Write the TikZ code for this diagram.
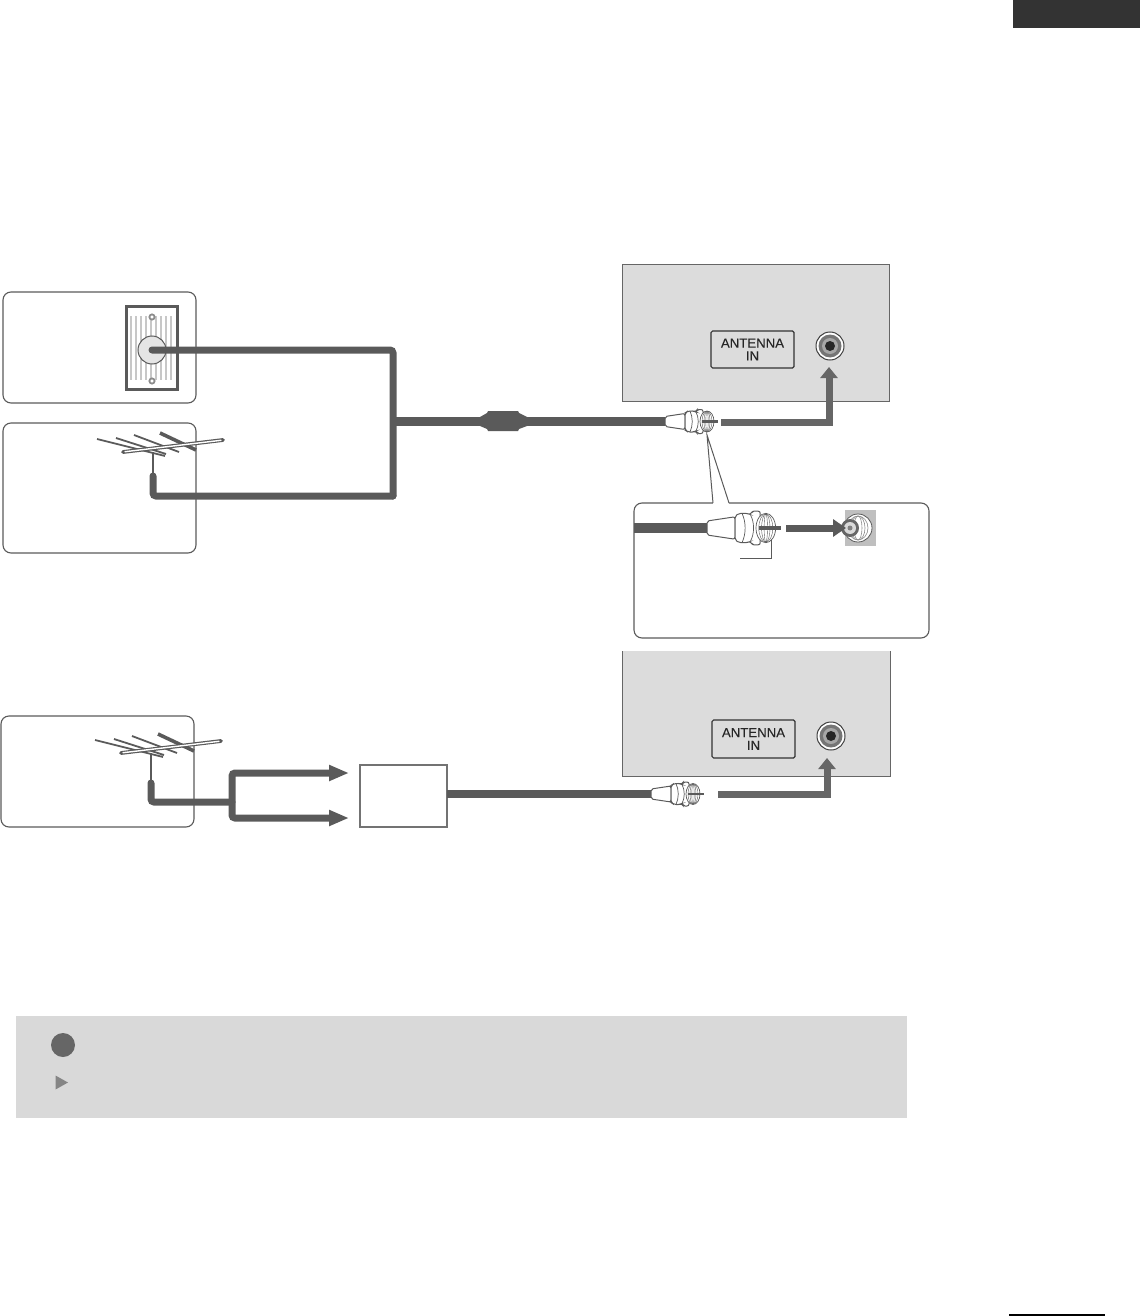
\documentclass[tikz,border=0pt]{standalone}
\usepackage{xcolor}
\usepackage{fontspec}
\setmainfont{Liberation Sans}
\usepackage{tikz}
\usetikzlibrary{arrows.meta,positioning}

\definecolor{cablegray}{HTML}{5A5A5A}
\definecolor{arrowgray}{HTML}{666666}
\definecolor{panelgray}{HTML}{DCDCDC}
\definecolor{notegray}{HTML}{D9D9D9}

\tikzset{
  wh/.style 2 args={minimum width=#1*0.5pt, minimum height=#2*0.5pt},
  pluginbox/.style={draw=cablegray, line width=0.55pt, rounded corners=4pt, inner sep=0pt, outer sep=0pt, anchor=north west},
  tvpanel/.style={fill=panelgray, inner sep=0pt, outer sep=0pt, anchor=north west},
  portlabel/.style={draw=black!80, line width=0.6pt, rounded corners=0.8pt, align=center, inner sep=0pt, outer sep=0pt,
                    font=\fontsize{6.6}{6.4}\selectfont\addfontfeatures{FakeBold=0.25}, text=black!85, anchor=north west},
  cable/.style={draw=cablegray, line width=3.5pt, rounded corners=1.5pt},
  mastline/.style={draw=cablegray, line width=1.3pt},
  feedarrow/.style={draw=arrowgray, line width=3.5pt, -{Triangle[length=5.5pt,width=8.5pt]}},
  splitarrow/.style={draw=cablegray, line width=3.5pt, rounded corners=1.5pt, -{Triangle[length=10pt,width=7.5pt]}},
  plugpin/.style={line width=1.1pt},
  antenna/.pic={
    \draw[cablegray, line width=0.9pt] (-56,-13) -- (12,4) (-37,-14) -- (13,2) (-19,-17) -- (26,0);
    \draw[cablegray, line width=1.8pt] (7,-19) -- (43,-2);
    \draw[cablegray, line width=1.9pt, line cap=round] (-30,0) -- (70,-12);
    \draw[white, line width=0.7pt, line cap=round] (-28,-0.3) -- (68,-11.7);
  },
  fplug/.pic={
    \draw[cablegray, line width=0.5pt, fill=white, rounded corners=1pt] (0,-5) -- (20,-8) -- (20,8) -- (0,5) -- cycle;
    \draw[cablegray, line width=0.5pt, fill=white, rounded corners=1pt] (20,-8.5) -- (23,-10.5) -- (29,-10.5) -- (31,-9.5) -- (32,-12) -- (38,-12)
      -- (38,12) -- (32,12) -- (31,9.5) -- (29,10.5) -- (23,10.5) -- (20,8.5) -- cycle;
    \draw[cablegray, line width=0.35pt] (25,-10.5) .. controls (28,-4) and (28,4) .. (25,10.5);
    \draw[cablegray, line width=0.35pt] (31,-9.5) .. controls (34,-4) and (34,4) .. (31,9.5);
    \draw[cablegray, line width=0.35pt, fill=white] (42,0) ellipse (7 and 10.5);
    \foreach \r in {5,3,1.2}
      \draw[cablegray, line width=0.2pt] (42,0) ellipse (\r*1 and 10);
    \draw[cablegray, plugpin] (37,0) -- (53,0);
  },
  rfjack/.pic={
    \draw[black!75, line width=0.5pt, fill=white] (0,0) circle (14);
    \fill[arrowgray!90] (0,0) circle (11.5);
    \fill[black!35] (0,0) circle (8);
    \fill[black!85] (0,0) circle (5);
  },
}

\begin{document}
\begin{tikzpicture}[x=0.5pt, y=-0.5pt]
\useasboundingbox (0,0) rectangle (1140,1316);

% ---------- Page marks ----------
\fill[black!80] (1013,0) rectangle (1140,28);
\draw[black, line width=0.8pt] (1009,1315) -- (1105,1315);

% ---------- First TV panel ----------
\node[tvpanel, draw=arrowgray, line width=0.5pt, wh={267}{137}] (tvtop) at (622,264) {};
\node[portlabel, wh={83}{37}] (porttop) at (711,331) {ANTENNA\\IN};
\coordinate (jacktop) at (830,346);
\pic at (jacktop) {rfjack};

% ---------- Wall outlet ----------
\node[pluginbox, wh={193}{111}] (wallbox) at (3,292) {};
\node[draw=cablegray, line width=1.4pt, fill=white, inner sep=0pt, outer sep=0pt, anchor=north west, wh={51}{83}] (wallplate) at (126.5,306.5) {};
\foreach \x in {131,136,...,171}
  \draw[black!22, line width=1pt] (\x,316) -- (\x,380);
\node[circle, draw=cablegray, line width=0.5pt, fill=black!10, inner sep=0pt, minimum size=14pt] (walljack) at (152,350) {};
\node[circle, draw=black!45, line width=0.9pt, fill=white, inner sep=0pt, minimum size=2.6pt] (screwtop) at (152,317) {};
\node[circle, draw=black!45, line width=0.9pt, fill=white, inner sep=0pt, minimum size=2.6pt] (screwbot) at (152,381) {};

% ---------- Roof antenna ----------
\node[pluginbox, wh={193}{130}] (antbox) at (3,423) {};
\coordinate (masttop) at (153,452);
\coordinate (mastfoot) at (153,476);
\pic at (masttop) {antenna};
\draw[mastline] (masttop) -- (mastfoot);
\coordinate (elbow) at (393,496);
\coordinate (trunk) at (393,421.5);

% ---------- Cable to the set ----------
\coordinate (plugtop) at (665,421.5);
\draw[cable, line cap=round] (walljack.center) -| (elbow);
\draw[cable, line cap=round] (mastfoot) |- (elbow);
\draw[cable, line width=4.5pt, rounded corners=0pt] (trunk) -- (plugtop);
\coordinate (ferrite) at (503,421);
\fill[cablegray, shift={(ferrite)}] (-23,-4) -- (-16,-8) -- (-15,-10) -- (15,-10) -- (16,-8) -- (24,-4) -- (24,5) -- (16,8) -- (15,10) -- (-15,10) -- (-16,8) -- (-23,5) -- cycle;
\pic at (plugtop) {fplug};
\coordinate (feedtop) at (721,422);
\coordinate (tiptop) at (829,367);
\draw[feedarrow] (feedtop) -| (tiptop);

% ---------- Callout ----------
\node[pluginbox, wh={295}{135}] (callout) at (634,503) {};
\coordinate (zoomsrc) at (707,435);
\coordinate (zoomleft) at (713,503);
\coordinate (zoomright) at (729,503);
\draw[white, line width=0.8pt] (zoomleft) -- (zoomright);
\draw[cablegray, line width=0.5pt] (zoomleft) -- (zoomsrc) -- (zoomright);

\fill[black!25] (845,510) rectangle (876,546);
\coordinate (zoomjack) at (858,528);
\draw[cablegray, line width=0.4pt, fill=white] (zoomjack) circle (14);
\foreach \r in {10,7,4}
  \draw[black!45, line width=0.3pt] (zoomjack) ellipse (\r*1 and 12);
\node[circle, fill=arrowgray, inner sep=0pt, minimum size=9pt] (zoomcore) at (850,528) {};
\fill[black!15] (zoomcore) circle (6);
\fill[black!50] (zoomcore) circle (2.5);

\coordinate (zoomplug) at (707,528);
\draw[cable, line width=5pt, rounded corners=0pt] (callout.west |- zoomplug) -- (zoomplug);
\pic[scale=1.4, plugpin/.style={line width=1.9pt}] at (zoomplug) {fplug};
\coordinate (zoomfeed) at (786,528);
\coordinate (zoomtip) at (846,528);
\draw[draw=cablegray, line width=3.5pt, -{Triangle[length=6.5pt,width=8.5pt]}] (zoomfeed) -- (zoomtip);
\coordinate (leadertop) at (771,540);
\coordinate (leaderend) at (740,558);
\draw[cablegray, line width=0.5pt] (leadertop) |- (leaderend);

% ---------- Second TV panel ----------
\node[tvpanel, wh={268}{125}] (tvbot) at (622,651) {};
\draw[arrowgray, line width=0.5pt] (tvbot.north west) -- (tvbot.south west) -- (tvbot.south east) -- (tvbot.north east);
\node[portlabel, wh={83}{38}] (portbot) at (712,720) {ANTENNA\\IN};
\coordinate (jackbot) at (831,736);
\pic at (jackbot) {rfjack};

% ---------- Antenna and set-top box ----------
\node[pluginbox, wh={193}{111}] (antboxtwo) at (1,716) {};
\coordinate (masttoptwo) at (151,753);
\coordinate (mastfoottwo) at (151,783);
\pic at (masttoptwo) {antenna};
\draw[mastline] (masttoptwo) -- (mastfoottwo);
\coordinate (fork) at (232,802);
\coordinate (splittop) at (349,773);
\coordinate (splitbot) at (349,818);
\node[draw=black!55, line width=0.7pt, inner sep=0pt, outer sep=0pt, anchor=north west, wh={87}{62}] (settop) at (360,765) {};

\draw[cable, line cap=round] (mastfoottwo) |- (fork);
\draw[splitarrow] (fork) |- (splittop);
\draw[splitarrow] (fork) |- (splitbot);
\coordinate (plugbot) at (651,794);
\draw[cable, line width=4pt, rounded corners=0pt] (settop.east |- plugbot) -- (plugbot);
\pic at (plugbot) {fplug};
\coordinate (feedbot) at (718,794);
\coordinate (tipbot) at (827,758);
\draw[feedarrow] (feedbot) -| (tipbot);

% ---------- Note ----------
\node[fill=notegray, inner sep=0pt, outer sep=0pt, anchor=north west, wh={891}{102}] (notebar) at (16,1016) {};
\node[circle, fill=arrowgray, inner sep=0pt, minimum size=12pt] (notedot) at (63,1045) {};
\fill[black!48] (55.5,1075.5) -- (68,1082.5) -- (55.5,1089.5) -- cycle;

\end{tikzpicture}
\end{document}
